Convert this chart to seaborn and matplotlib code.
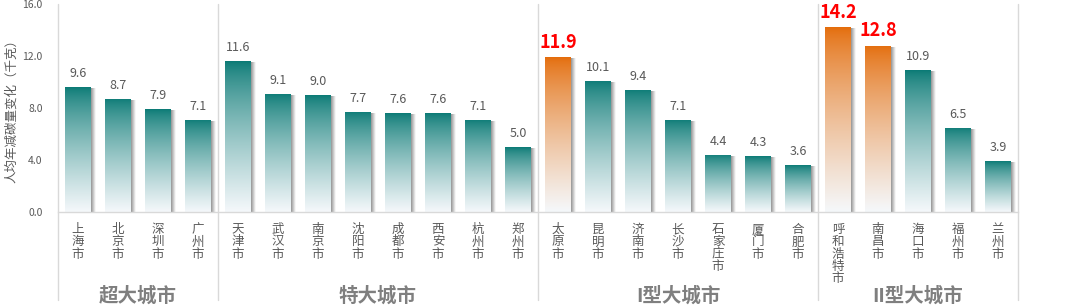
import numpy as np
import pandas as pd
import matplotlib
matplotlib.use("Agg")
import matplotlib.pyplot as plt
import matplotlib.transforms as mtransforms
from matplotlib.colors import to_rgb
import seaborn as sns

cities = ["上海市", "北京市", "深圳市", "广州市",
          "天津市", "武汉市", "南京市", "沈阳市", "成都市", "西安市", "杭州市", "郑州市",
          "太原市", "昆明市", "济南市", "长沙市", "石家庄市", "厦门市", "合肥市",
          "呼和浩特市", "南昌市", "海口市", "福州市", "兰州市"]
values = [9.6, 8.7, 7.9, 7.1,
          11.6, 9.1, 9.0, 7.7, 7.6, 7.6, 7.1, 5.0,
          11.9, 10.1, 9.4, 7.1, 4.4, 4.3, 3.6,
          14.2, 12.8, 10.9, 6.5, 3.9]
groups = ["超大城市"] * 4 + ["特大城市"] * 8 + ["I型大城市"] * 7 + ["II型大城市"] * 5
group_names = ["超大城市", "特大城市", "I型大城市", "II型大城市"]
highlight = ["否"] * 12 + ["是"] + ["否"] * 6 + ["是", "是"] + ["否"] * 3
y_ticks = [0.0, 4.0, 8.0, 12.0, 16.0]
y_label = "人均年减碳量变化（千克）"

df = pd.DataFrame({"city": cities, "value": values, "group": groups, "hl": highlight})

sns.set_theme(style="white")
plt.rcParams["font.family"] = ["Noto Sans CJK SC", "DejaVu Sans"]
plt.rcParams["axes.unicode_minus"] = False

TEAL = "#0a7a75"
ORANGE = "#e46c0a"
BOTTOM = "#f5f8fb"
GRAY_TXT = "#595959"
LINE = "#d9d9d9"

fig = plt.figure(figsize=(10.8, 3.06), dpi=100)
ax = fig.add_axes([58 / 1080, (306 - 212) / 306, 960 / 1080, 208 / 306])

sns.barplot(data=df, x="city", y="value", hue="hl", palette={"否": TEAL, "是": ORANGE},
            dodge=False, width=0.65, legend=False, ax=ax, saturation=1)

ax.set_xlim(-0.5, 23.5)
ax.set_ylim(0, 16)


def grad(top, bottom, n=256):
    t = np.array(to_rgb(top))
    b = np.array(to_rgb(bottom))
    f = np.linspace(0, 1, n)[:, None]
    f = f ** 0.75
    return (t * (1 - f) + b * f)[:, None, :]


bars = [p for p in ax.patches if p.get_height() > 0]
bars.sort(key=lambda p: p.get_x())
for p, v, h in zip(bars, values, highlight):
    x0, w, hgt = p.get_x(), p.get_width(), p.get_height()
    top = ORANGE if h == "是" else TEAL
    # shadow to the right
    sh = np.zeros((1, 16, 4))
    sh[..., :3] = 0.45
    sh[0, :, 3] = np.linspace(0.75, 0.0, 16)
    ax.imshow(sh, extent=(x0 + w, x0 + w + 0.11, 0, hgt - 0.12), aspect="auto",
              zorder=1, interpolation="bilinear")
    im = ax.imshow(grad(top, BOTTOM), extent=(x0, x0 + w, 0, hgt), aspect="auto",
                   zorder=2, interpolation="bilinear")
    im.set_clip_path(p)
    p.set_facecolor("none")
    p.set_edgecolor("none")
    p.set_zorder(3)
    if h == "是":
        ax.annotate(f"{v:.1f}", (x0 + w / 2, hgt), xytext=(0, 4), textcoords="offset points",
                    ha="center", va="bottom", color="#ff0000", fontsize=13, fontweight="bold")
    else:
        ax.annotate(f"{v:.1f}", (x0 + w / 2, hgt), xytext=(0, 5), textcoords="offset points",
                    ha="center", va="bottom", color=GRAY_TXT, fontsize=9)

ax.set_aspect("auto")
ax.set_xlim(-0.5, 23.5)
ax.set_ylim(0, 16)

for s in ["top", "right", "left"]:
    ax.spines[s].set_visible(False)
ax.spines["bottom"].set_color(LINE)
ax.spines["bottom"].set_linewidth(1)

ax.set_yticks(y_ticks)
ax.set_yticklabels([f"{t:.1f}" for t in y_ticks], fontsize=7.5, color=GRAY_TXT)
ax.set_xticks(range(len(cities)))
ax.set_xticklabels(["\n".join(c) for c in cities], fontsize=9, color=GRAY_TXT,
                   linespacing=0.93, va="top")
ax.tick_params(axis="both", length=0)
ax.tick_params(axis="x", pad=8)
ax.tick_params(axis="y", pad=11)
ax.set_xlabel("")
ax.set_ylabel(y_label, fontsize=9, color=GRAY_TXT, labelpad=3)

trans = mtransforms.blended_transform_factory(ax.transData, ax.transAxes)
bounds = [-0.5]
for g in group_names:
    bounds.append(bounds[-1] + groups.count(g))
for b in bounds:
    ax.plot([b, b], [-0.425, 1.0], color=LINE, lw=1, transform=trans, clip_on=False, zorder=0)
for g, a, b in zip(group_names, bounds[:-1], bounds[1:]):
    ax.text((a + b) / 2, -0.405, g, transform=trans, ha="center", va="center",
            fontsize=14, fontweight="bold", color="#7f7f7f")

fig.savefig("out.png", dpi=100)
